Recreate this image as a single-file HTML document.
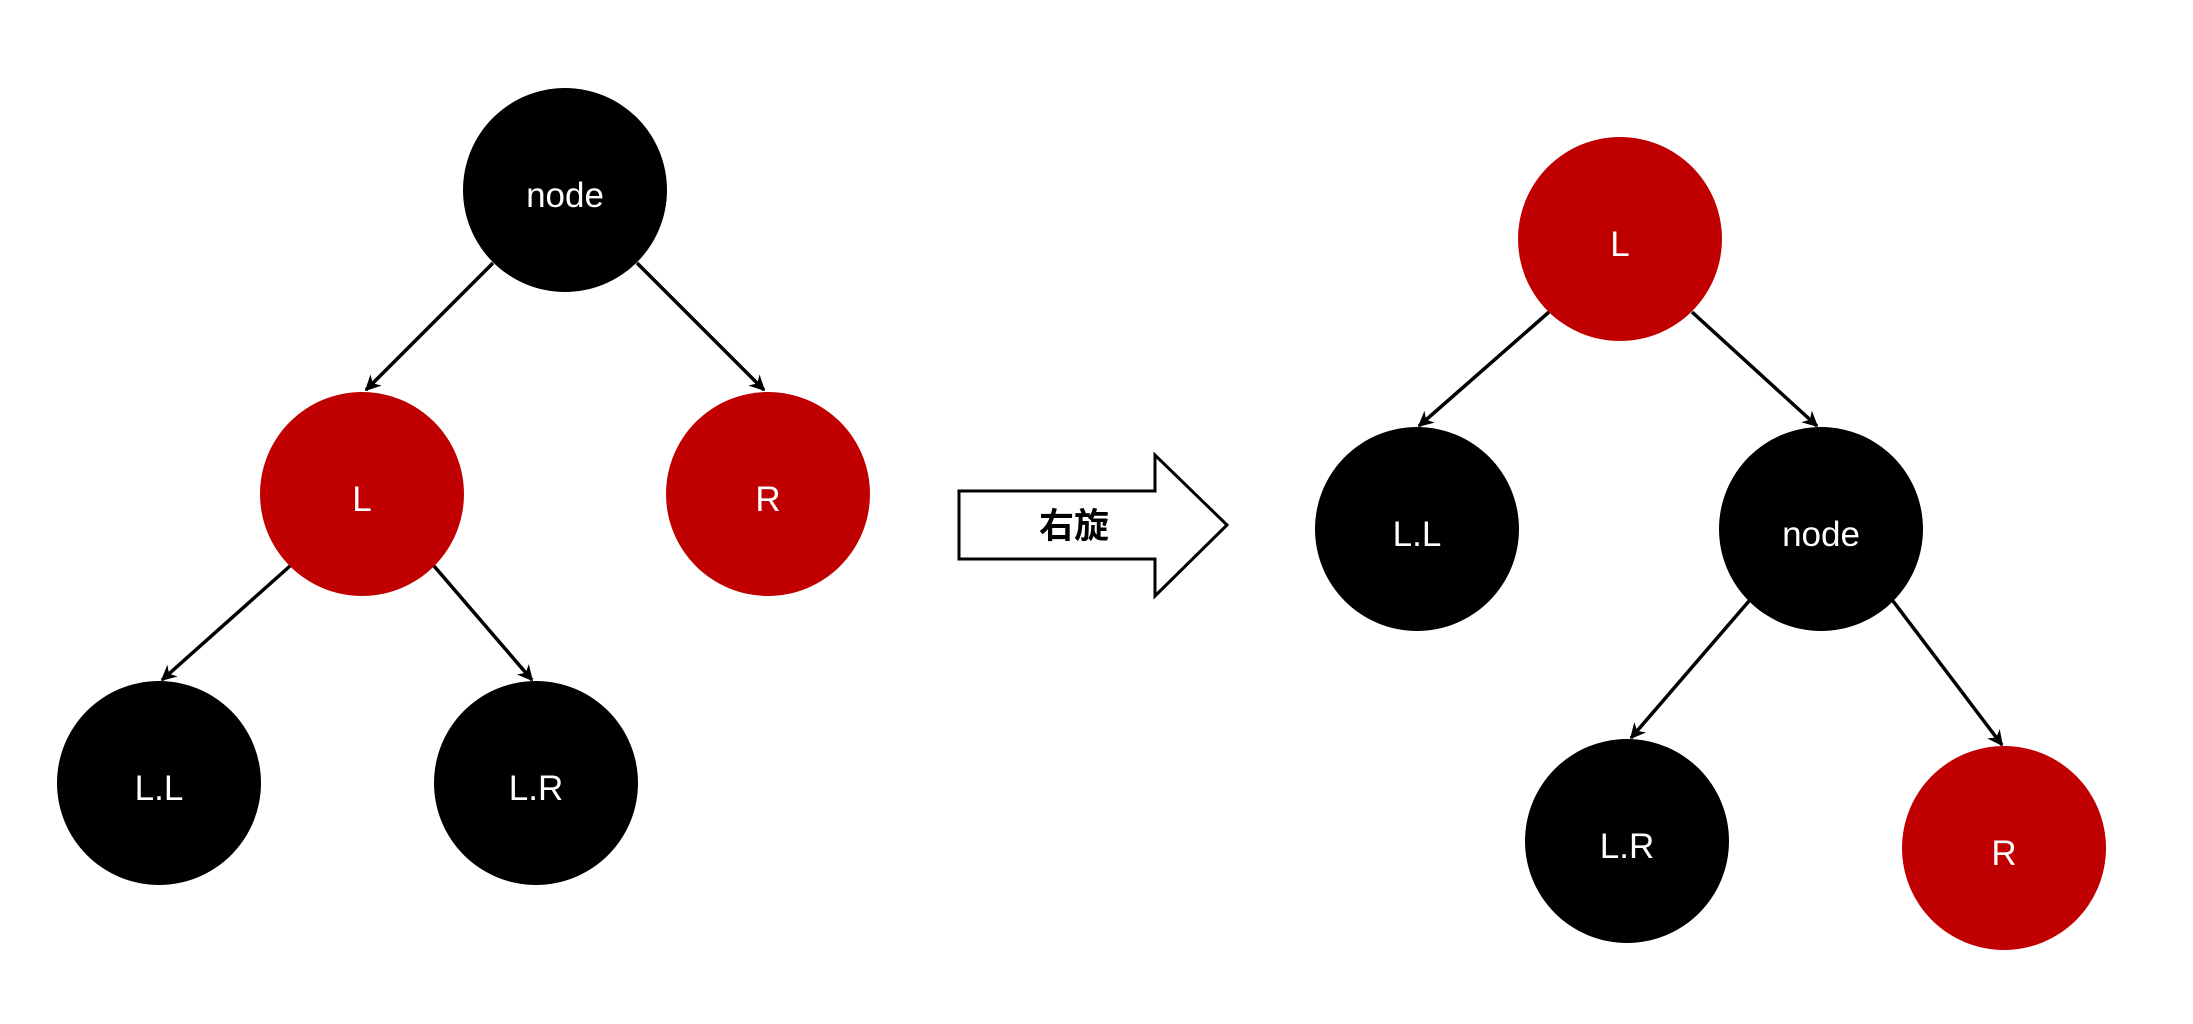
<!DOCTYPE html>
<html><head><meta charset="utf-8"><style>
html,body{margin:0;padding:0;background:#fff;}
svg{display:block}
text{font-family:"Liberation Sans","Noto Sans CJK SC",sans-serif;}
</style></head><body>
<svg width="2193" height="1024" viewBox="0 0 2193 1024" xmlns="http://www.w3.org/2000/svg">
<defs>
<marker id="a" viewBox="0 0 10 10" refX="9" refY="5" markerWidth="4.5" markerHeight="4.5" orient="auto" markerUnits="strokeWidth">
<path d="M0,0 L10,5 L0,10 L3,5 z" fill="#000"/>
</marker>
</defs>
<g stroke="#000" stroke-width="3.5" marker-end="url(#a)">
<line x1="493" y1="263" x2="366" y2="390"/>
<line x1="637" y1="263" x2="764" y2="390"/>
<line x1="290" y1="566" x2="162" y2="680"/>
<line x1="434" y1="566" x2="532" y2="680"/>
<line x1="1549" y1="312" x2="1419" y2="426"/>
<line x1="1692" y1="312" x2="1817" y2="426"/>
<line x1="1749" y1="601" x2="1631" y2="738"/>
<line x1="1893" y1="601" x2="2002" y2="745"/>
</g>
<g text-anchor="middle" font-size="35" fill="#fff">
<circle cx="565" cy="190" r="102" fill="#000"/><text x="565" y="207">node</text>
<circle cx="362" cy="494" r="102" fill="#c00000"/><text x="362" y="511">L</text>
<circle cx="768" cy="494" r="102" fill="#c00000"/><text x="768" y="511">R</text>
<circle cx="159" cy="783" r="102" fill="#000"/><text x="159" y="800">L.L</text>
<circle cx="536" cy="783" r="102" fill="#000"/><text x="536" y="800">L.R</text>
<circle cx="1620" cy="239" r="102" fill="#c00000"/><text x="1620" y="256">L</text>
<circle cx="1417" cy="529" r="102" fill="#000"/><text x="1417" y="546">L.L</text>
<circle cx="1821" cy="529" r="102" fill="#000"/><text x="1821" y="546">node</text>
<circle cx="1627" cy="841" r="102" fill="#000"/><text x="1627" y="858">L.R</text>
<circle cx="2004" cy="848" r="102" fill="#c00000"/><text x="2004" y="865">R</text>
</g>
<path d="M959,491 H1155 V455 L1227,525 L1155,596 V559 H959 Z" fill="#fff" stroke="#000" stroke-width="3"/>
<text x="1074" y="538" text-anchor="middle" font-size="35" font-weight="bold" fill="#000">右旋</text>
</svg>
</body></html>
